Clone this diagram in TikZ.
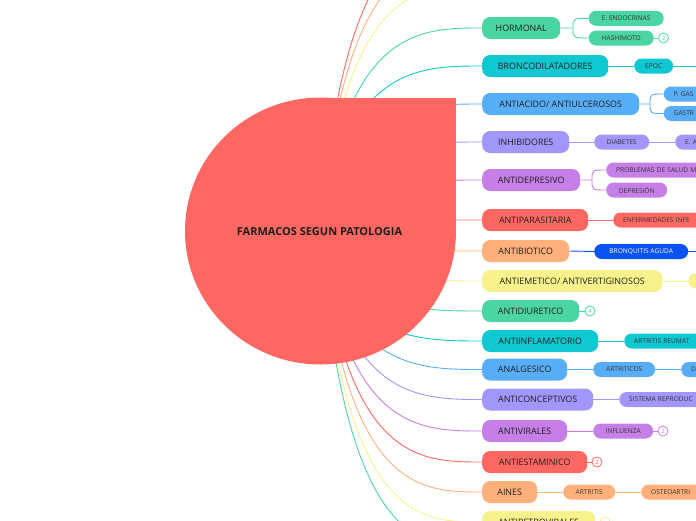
\documentclass[tikz,border=0pt]{standalone}
\usepackage{fontspec}
\setmainfont{Open Sans}
\usetikzlibrary{backgrounds}
\definecolor{cgreen}{HTML}{4BD5A3}
\definecolor{ccyan}{HTML}{10C8D2}
\definecolor{cblue}{HTML}{58AEF6}
\definecolor{clav}{HTML}{A196FA}
\definecolor{cpurp}{HTML}{C57FE7}
\definecolor{cred}{HTML}{FF6862}
\definecolor{corange}{HTML}{FFB07B}
\definecolor{cyellow}{HTML}{F7F28C}
\definecolor{cdeep}{HTML}{0A52F2}
\definecolor{ctext}{HTML}{1E1E1E}
\definecolor{csub}{HTML}{333333}
\tikzset{
  mainnode/.style={fill=#1, rounded corners=8pt, minimum height=22pt, inner xsep=2pt, inner ysep=0pt, anchor=west, font=\fontsize{8.9}{10}\selectfont, text=ctext},
  subnode/.style={fill=#1, rounded corners=7.5pt, minimum height=15pt, inner xsep=2pt, inner ysep=0pt, anchor=west, font=\fontsize{6.6}{7}\selectfont, text=csub},
  cutnode/.style={subnode=#1, text width=140pt, align=left, inner xsep=10pt},
  link/.style={draw=#1, line width=0.9pt},
  countc/.style={circle, draw=#1, fill=white, text=#1, line width=0.8pt, minimum size=10pt, inner sep=0pt, font=\fontsize{6}{6}\selectfont},
}
\newcommand{\rootlink}[3]{\draw[link=#1] (root.center) .. controls (346,#3) and (420,#3) .. (#2);}
\begin{document}
\begin{tikzpicture}[x=1pt,y=-1pt]
\useasboundingbox (0,0) rectangle (696,520);
\clip (0,0) rectangle (696,520);
% central shape
\fill[cred] (320.5,231) ellipse[x radius=135.5, y radius=133.5];
\fill[cred] (320.5,97.5) rectangle (456,231);
\node[font=\bfseries\fontsize{11}{13}\selectfont, text=ctext] (root) at (319.5,231.5) {FARMACOS SEGUN PATOLOGIA};

% main nodes
\node[mainnode=cgreen, minimum width=78pt] (hormonal) at (482,28) {HORMONAL};
\node[mainnode=ccyan, minimum width=126pt] (bronco) at (482,66) {BRONCODILATADORES};
\node[mainnode=cblue, minimum width=157pt] (antiacido) at (482,104) {ANTIACIDO/ ANTIULCEROSOS};
\node[mainnode=clav, minimum width=87pt] (inhib) at (482,142) {INHIBIDORES};
\node[mainnode=cpurp, minimum width=98pt] (antidep) at (482,180) {ANTIDEPRESIVO};
\node[mainnode=cred, minimum width=106pt] (antipar) at (482,220) {ANTIPARASITARIA};
\node[mainnode=corange, minimum width=87pt] (antibio) at (482,251) {ANTIBIOTICO};
\node[mainnode=cyellow, minimum width=180pt] (antiem) at (482,281) {ANTIEMETICO/ ANTIVERTIGINOSOS};
\node[mainnode=cgreen, minimum width=97pt] (antidiu) at (482,311) {ANTIDIURETICO};
\node[mainnode=ccyan, minimum width=116pt] (antiinf) at (482,341) {ANTIINFLAMATORIO};
\node[mainnode=cblue, minimum width=85pt] (analg) at (482,369.5) {ANALGESICO};
\node[mainnode=clav, minimum width=111pt] (anticon) at (482,399.5) {ANTICONCEPTIVOS};
\node[mainnode=cpurp, minimum width=85pt] (antivir) at (482,431) {ANTIVIRALES};
\node[mainnode=cred, minimum width=105pt] (antiest) at (482,462) {ANTIESTAMINICO};
\node[mainnode=corange, minimum width=55pt] (aines) at (482,492) {AINES};
\node[mainnode=cyellow, minimum width=113pt] (antiret) at (482,522) {ANTIRETROVIRALES};

% sub nodes
\node[subnode=cgreen, minimum width=75pt] (endo) at (588.5,18.3) {E. ENDOCRINAS};
\node[subnode=cgreen, minimum width=65pt] (hashi) at (588.5,38) {HASHIMOTO};
\node[countc=cgreen] (c1) at (663.5,38) {2};
\node[subnode=ccyan, minimum width=39pt] (epoc) at (634,66) {EPOC};
\node[cutnode=cblue] (pgas) at (663.5,94) {P. GAS};
\node[cutnode=cblue] (gastr) at (663.5,113.5) {GASTR};
\node[subnode=clav, minimum width=55pt] (diab) at (594,142) {DIABETES};
\node[cutnode=clav] (ea) at (675,142) {E. A};
\node[cutnode=cpurp] (prob) at (606,170) {PROBLEMAS DE SALUD M};
\node[subnode=cpurp, minimum width=61pt] (depre) at (606,190) {DEPRESIÓN};
\node[cutnode=cred] (enf) at (613,220) {ENFERMEDADES INFE};
\node[subnode=cdeep, minimum width=94pt, text=white] (bronq) at (594,251.5) {BRONQUITIS AGUDA};
\node[cutnode=cyellow] (yel) at (688,281) {};
\node[countc=cgreen] (c2) at (590,311) {4};
\node[cutnode=ccyan] (artreu) at (624,341) {ARTRITIS REUMAT};
\node[subnode=cblue, minimum width=62pt] (artritic) at (593,369.5) {ARTRITICOS};
\node[cutnode=cblue] (dd) at (681,369.5) {D};
\node[cutnode=clav] (sisrep) at (619,399.5) {SISTEMA REPRODUC};
\node[subnode=cpurp, minimum width=60pt] (influ) at (593,431) {INFLUENZA};
\node[countc=cpurp] (c3) at (663,431) {2};
\node[countc=cred] (c4) at (597,462) {2};
\node[subnode=corange, minimum width=52pt] (artritis) at (563,492) {ARTRITIS};
\node[cutnode=corange] (osteo) at (641,492) {OSTEOARTRI};
\node[countc=cyellow] (c5) at (605,522) {};

\coordinate (offa) at (482,-70);
\coordinate (offb) at (482,-45);
\coordinate (offc) at (482,-15);
\coordinate (offd) at (482,548);
\coordinate (epocr) at (700,66);
\coordinate (bronqr) at (700,251.5);
\coordinate (fh) at (573,28);
\coordinate (fa) at (650,104);
\coordinate (fd) at (592,180);

\begin{pgfonlayer}{background}
\rootlink{cred}{offa}{-70}
\rootlink{corange}{offb}{-45}
\rootlink{cyellow}{offc}{-15}
\rootlink{cgreen}{hormonal.west}{28}
\rootlink{ccyan}{bronco.west}{66}
\rootlink{cblue}{antiacido.west}{104}
\rootlink{clav}{inhib.west}{142}
\rootlink{cpurp}{antidep.west}{180}
\rootlink{cred}{antipar.west}{220}
\rootlink{corange}{antibio.west}{251}
\rootlink{cyellow}{antiem.west}{281}
\rootlink{cgreen}{antidiu.west}{311}
\rootlink{ccyan}{antiinf.west}{341}
\rootlink{cblue}{analg.west}{369.5}
\rootlink{clav}{anticon.west}{399.5}
\rootlink{cpurp}{antivir.west}{431}
\rootlink{cred}{antiest.west}{462}
\rootlink{corange}{aines.west}{492}
\rootlink{cyellow}{antiret.west}{522}
\rootlink{cgreen}{offd}{548}
% sub links
\draw[link=cgreen] (hormonal.east) -- (fh) .. controls (573,18.3) .. (endo.west);
\draw[link=cgreen] (fh) .. controls (573,38) .. (hashi.west);
\draw[link=cgreen] (hashi.east) -- (c1);
\draw[link=ccyan] (bronco.east) -- (epoc.west);
\draw[link=ccyan] (epoc.east) -- (epocr);
\draw[link=cblue] (antiacido.east) -- (fa) .. controls (650,94) .. (pgas.west);
\draw[link=cblue] (fa) .. controls (650,113.5) .. (gastr.west);
\draw[link=clav] (inhib.east) -- (diab.west);
\draw[link=clav] (diab.east) -- (ea.west);
\draw[link=cpurp] (antidep.east) -- (fd) .. controls (592,170) .. (prob.west);
\draw[link=cpurp] (fd) .. controls (592,190) .. (depre.west);
\draw[link=cred] (antipar.east) -- (enf.west);
\draw[link=cdeep] (antibio.east) -- (bronq.west);
\draw[link=cdeep] (bronq.east) -- (bronqr);
\draw[link=cyellow] (antiem.east) -- (yel.west);
\draw[link=cgreen] (antidiu.east) -- (c2);
\draw[link=ccyan] (antiinf.east) -- (artreu.west);
\draw[link=cblue] (analg.east) -- (artritic.west);
\draw[link=cblue] (artritic.east) -- (dd.west);
\draw[link=clav] (anticon.east) -- (sisrep.west);
\draw[link=cpurp] (antivir.east) -- (influ.west);
\draw[link=cpurp] (influ.east) -- (c3);
\draw[link=cred] (antiest.east) -- (c4);
\draw[link=corange] (aines.east) -- (artritis.west);
\draw[link=corange] (artritis.east) -- (osteo.west);
\draw[link=cyellow] (antiret.east) -- (c5);
\end{pgfonlayer}
\end{tikzpicture}
\end{document}
